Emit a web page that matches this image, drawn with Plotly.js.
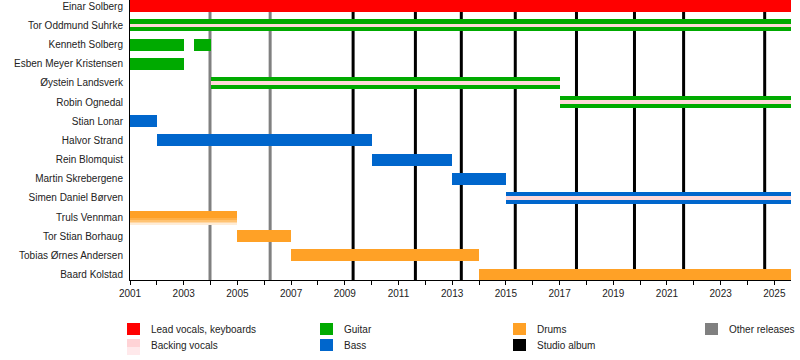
<!DOCTYPE html>
<html>
<head>
<meta charset="utf-8">
<script src="https://cdn.plot.ly/plotly-3.0.1.min.js"></script>
<style>html,body{margin:0;padding:0;background:#fff;}#chart{width:800px;height:360px;}</style>
</head>
<body>
<div id="chart"></div>
<script>
// ---- Data ----
const members = [
  "Einar Solberg", "Tor Oddmund Suhrke", "Kenneth Solberg", "Esben Meyer Kristensen",
  "Øystein Landsverk", "Robin Ognedal", "Stian Lonar", "Halvor Strand", "Rein Blomquist",
  "Martin Skrebergene", "Simen Daniel Børven", "Truls Vennman", "Tor Stian Borhaug",
  "Tobias Ørnes Andersen", "Baard Kolstad"
];
const endYear = 2025.62;

// main role periods
const periodMember = [
  "Einar Solberg", "Tor Oddmund Suhrke", "Kenneth Solberg", "Kenneth Solberg",
  "Esben Meyer Kristensen", "Øystein Landsverk", "Robin Ognedal", "Stian Lonar",
  "Halvor Strand", "Rein Blomquist", "Martin Skrebergene", "Simen Daniel Børven",
  "Truls Vennman", "Tor Stian Borhaug", "Tobias Ørnes Andersen", "Baard Kolstad"
];
const periodStart = [2001, 2001, 2001, 2003.37, 2001, 2004, 2017, 2001, 2002, 2010, 2013, 2015, 2001, 2005, 2007, 2014];
const periodEnd   = [endYear, endYear, 2003, 2004, 2003, 2017, endYear, 2002, 2010, 2013, 2015, endYear, 2005, 2007, 2014, endYear];
const periodRole  = ["lead", "guitar", "guitar", "guitar", "guitar", "guitar", "guitar", "bass", "bass", "bass", "bass", "bass", "drums", "drums", "drums", "drums"];

// backing vocals (centre stripe)
const backingMember = ["Tor Oddmund Suhrke", "Øystein Landsverk", "Robin Ognedal", "Simen Daniel Børven"];
const backingStart  = [2001, 2004, 2017, 2015];
const backingEnd    = [endYear, 2017, endYear, endYear];

// backing vocals shown as a faded lower edge
const fadedMember = ["Truls Vennman"];
const fadedStart  = [2001];
const fadedEnd    = [2005];

// releases
const studioAlbums  = [2009.31, 2011.63, 2013.34, 2015.35, 2017.63, 2019.79, 2021.62, 2024.64];
const otherReleases = [2003.98, 2006.22];

// roles / legend
const roleKeys   = ["lead", "guitar", "bass", "drums"];
const roleColors = { lead: "#ff0000", guitar: "#00aa00", bass: "#0066cc", drums: "#ffa126" };
const backingColor = "#ffd9d9";
const albumColor = "#000000";
const otherColor = "#808080";
const legendLabels = ["Lead vocals, keyboards", "Backing vocals", "Guitar", "Bass", "Drums", "Studio album", "Other releases"];

// ---- Build ----
const BAR_W = 0.626;
const traces = [];
roleKeys.forEach(function (rk) {
  const ys = [], bs = [], xs = [];
  periodRole.forEach(function (r, i) {
    if (r === rk) { ys.push(periodMember[i]); bs.push(periodStart[i]); xs.push(periodEnd[i] - periodStart[i]); }
  });
  traces.push({
    type: "bar", orientation: "h", y: ys, base: bs, x: xs,
    width: BAR_W, marker: { color: roleColors[rk], line: { width: 0 } },
    hoverinfo: "skip", showlegend: false
  });
});
traces.push({
  type: "bar", orientation: "h", y: backingMember, base: backingStart,
  x: backingEnd.map(function (e, i) { return e - backingStart[i]; }),
  width: 0.18, marker: { color: backingColor, line: { width: 0 } },
  hoverinfo: "skip", showlegend: false
});
// faded lower edge for Truls (orange fading to white)
const fadeBands = [
  { offset: 0.04, width: 0.12, color: "#ffb048" },
  { offset: 0.16, width: 0.10, color: "#ffc373" },
  { offset: 0.26, width: 0.07, color: "#ffd8a6" },
  { offset: 0.33, width: 0.06, color: "#ffecd6" }
];
fadeBands.forEach(function (fb) {
  traces.push({
    type: "bar", orientation: "h", y: fadedMember, base: fadedStart,
    x: fadedEnd.map(function (e, i) { return e - fadedStart[i]; }),
    width: fb.width, offset: fb.offset, marker: { color: fb.color, line: { width: 0 } },
    hoverinfo: "skip", showlegend: false
  });
});

const shapes = [];
studioAlbums.forEach(function (yr) {
  shapes.push({ type: "line", xref: "x", yref: "paper", x0: yr, x1: yr, y0: 0, y1: 1,
    line: { color: albumColor, width: 3 }, layer: "below" });
});
otherReleases.forEach(function (yr) {
  shapes.push({ type: "line", xref: "x", yref: "paper", x0: yr, x1: yr, y0: 0, y1: 1,
    line: { color: otherColor, width: 3 }, layer: "below" });
});

// legend (pixel layout -> paper coords)
const L = 130, PW = 661, PH = 280;
function px(x) { return (x - L) / PW; }
function py(y) { return (PH - y) / PH; }
const legendItems = [
  { label: legendLabels[0], color: roleColors.lead, x: 127, y: 323 },
  { label: legendLabels[1], color: backingColor, x: 127, y: 339, fade: true },
  { label: legendLabels[2], color: roleColors.guitar, x: 320, y: 323 },
  { label: legendLabels[3], color: roleColors.bass, x: 320, y: 339 },
  { label: legendLabels[4], color: roleColors.drums, x: 513, y: 323 },
  { label: legendLabels[5], color: albumColor, x: 513, y: 339 },
  { label: legendLabels[6], color: otherColor, x: 705, y: 323 }
];
const annotations = [];
legendItems.forEach(function (it) {
  if (it.fade) {
    shapes.push({ type: "rect", xref: "paper", yref: "paper", x0: px(it.x), x1: px(it.x + 13), y0: py(it.y), y1: py(it.y + 8), fillcolor: "#ffd3d6", line: { width: 0 } });
    shapes.push({ type: "rect", xref: "paper", yref: "paper", x0: px(it.x), x1: px(it.x + 13), y0: py(it.y + 8), y1: py(it.y + 16), fillcolor: "#ffe9eb", line: { width: 0 } });
  } else {
    shapes.push({ type: "rect", xref: "paper", yref: "paper", x0: px(it.x), x1: px(it.x + 13), y0: py(it.y), y1: py(it.y + 12), fillcolor: it.color, line: { width: 0 } });
  }
  annotations.push({ xref: "paper", yref: "paper", x: px(it.x + 22), y: py(it.y + 6), xanchor: "left", yanchor: "middle",
    text: it.label, showarrow: false, font: { size: 10, color: "#222" } });
});

const layout = {
  width: 800, height: 360,
  margin: { l: 130, r: 9, t: 0, b: 80 },
  paper_bgcolor: "#fff", plot_bgcolor: "#fff",
  font: { family: "Liberation Sans, Arial, sans-serif", size: 10, color: "#222" },
  barmode: "overlay", bargap: 0,
  showlegend: false,
  xaxis: {
    type: "linear", range: [2001, endYear],
    tickmode: "linear", tick0: 2001, dtick: 2,
    ticks: "outside", ticklen: 4, tickcolor: "#000", tickwidth: 1,
    minor: { tickmode: "linear", tick0: 2001, dtick: 1, ticks: "outside", ticklen: 4, tickcolor: "#000", showgrid: false },
    showgrid: false, zeroline: false, showline: true, linecolor: "#000", linewidth: 1,
    tickfont: { size: 10, color: "#222" }, fixedrange: true
  },
  yaxis: {
    type: "category", categoryorder: "array", categoryarray: members,
    range: [14.28, -0.33],
    ticks: "", showgrid: false, zeroline: false, showline: true, linecolor: "#000", linewidth: 1,
    ticklabelstandoff: 4,
    tickfont: { size: 10, color: "#222" }, fixedrange: true
  },
  shapes: shapes,
  annotations: annotations
};

Plotly.newPlot("chart", traces, layout, { staticPlot: true, displayModeBar: false });
</script>
</body>
</html>
